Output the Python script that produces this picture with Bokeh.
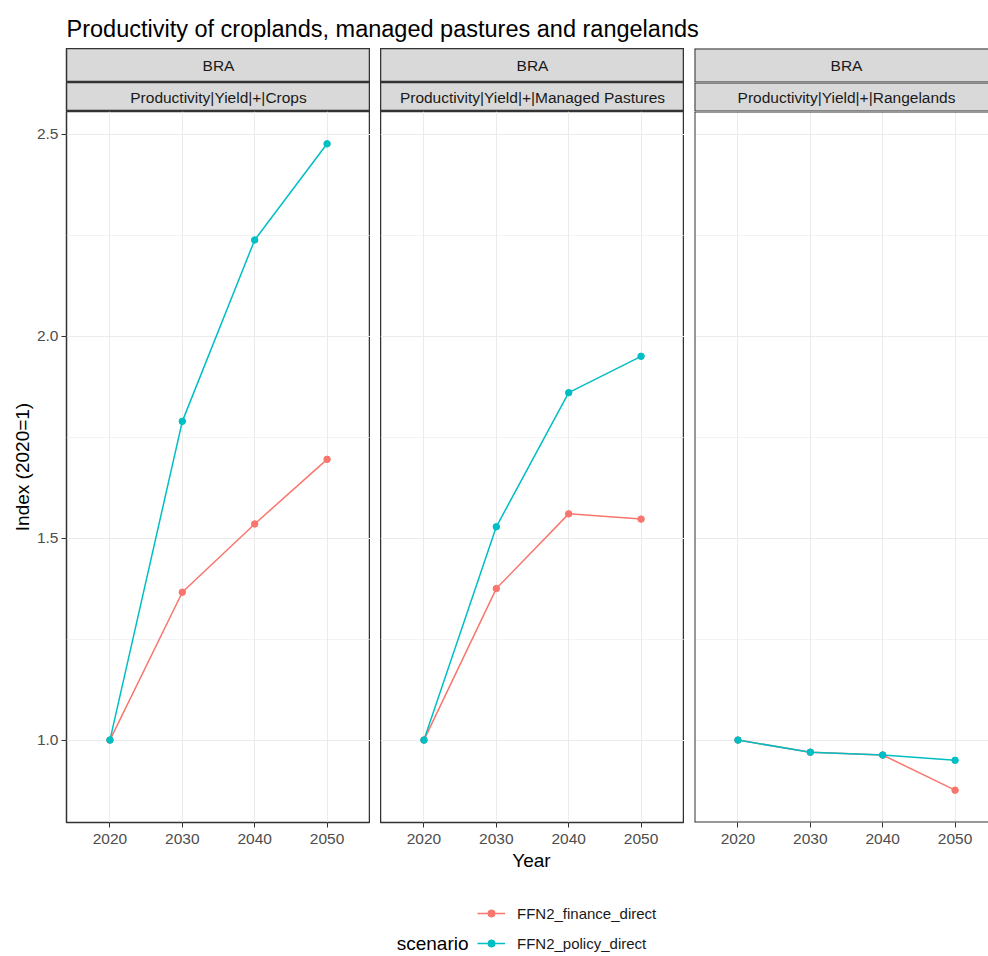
from bokeh.plotting import figure
from bokeh.models import (Range1d, FixedTicker, Label, Span, Legend, LegendItem)
from bokeh.layouts import column, row
from bokeh.embed import file_html
from bokeh.resources import INLINE

# ---------------- data ----------------
title_text = "Productivity of croplands, managed pastures and rangelands"
region = "BRA"
variables = ["Productivity|Yield|+|Crops",
             "Productivity|Yield|+|Managed Pastures",
             "Productivity|Yield|+|Rangelands"]
years = [2020, 2030, 2040, 2050]
scenarios = ["FFN2_finance_direct", "FFN2_policy_direct"]

finance_crops = [1.0, 1.366, 1.535, 1.695]
policy_crops = [1.0, 1.789, 2.238, 2.476]
finance_pastures = [1.0, 1.375, 1.560, 1.547]
policy_pastures = [1.0, 1.528, 1.860, 1.950]
finance_rangelands = [1.0, 0.970, 0.963, 0.876]
policy_rangelands = [1.0, 0.970, 0.963, 0.950]

y_ticks = [1.0, 1.5, 2.0, 2.5]
y_minor = [0.75, 1.25, 1.75, 2.25]
x_label = "Year"
y_label = "Index (2020=1)"
legend_title = "scenario"

colors = ["#F8766D", "#00BFC4"]
FONT = "Liberation Sans"

series = [
    [finance_crops, policy_crops],
    [finance_pastures, policy_pastures],
    [finance_rangelands, policy_rangelands],
]

# ---------------- layout constants ----------------
LEFT = 66
PANEL_W = [304, 304, 294]
FULL_W = 304
FRAME_H = 711
BOTTOM = 28
STRIP_H = [34, 29]
BORDER = "#333333"
TW = 988

allv = [v for pair in series for s in pair for v in s]
lo, hi = min(allv), max(allv)
pad = 0.05 * (hi - lo)
yr = Range1d(lo - pad, hi + pad)

step = years[1] - years[0]
x0 = years[0] - 0.6 * step
x_span = (years[-1] - years[0]) + 1.2 * step


def no_grid(f):
    for g in f.grid:
        g.visible = False


def make_panel(i):
    w = PANEL_W[i]
    left = LEFT if i == 0 else 0
    xr = Range1d(x0, x0 + x_span * w / FULL_W)
    p = figure(width=w + left, height=FRAME_H + BOTTOM, x_range=xr, y_range=yr,
               output_backend="svg", toolbar_location=None,
               min_border_left=left, min_border_right=0, min_border_top=0,
               min_border_bottom=BOTTOM,
               y_axis_location="left" if i == 0 else None)
    p.background_fill_color = "white"
    p.border_fill_color = "white"
    xa = p.xaxis[0]
    xa.ticker = FixedTicker(ticks=years)
    xa.major_label_overrides = {y: str(y) for y in years}
    xa.axis_line_color = None
    xa.major_tick_line_color = BORDER
    xa.major_tick_out = 5
    xa.major_tick_in = 0
    xa.minor_tick_line_color = None
    xa.major_label_text_color = "#4D4D4D"
    xa.major_label_text_font = FONT
    xa.major_label_text_font_size = "15.5px"
    xa.major_label_standoff = 6
    xg = p.xgrid[0]
    xg.ticker = FixedTicker(ticks=years)
    xg.grid_line_color = "#EBEBEB"
    xg.grid_line_width = 1
    if i == 0:
        ya = p.yaxis[0]
        ya.ticker = FixedTicker(ticks=y_ticks, minor_ticks=y_minor)
        ya.major_label_overrides = {t: f"{t:.1f}" for t in y_ticks}
        ya.axis_line_color = None
        ya.major_tick_line_color = BORDER
        ya.major_tick_out = 5
        ya.major_tick_in = 0
        ya.minor_tick_line_color = None
        ya.major_label_text_color = "#4D4D4D"
        ya.major_label_text_font = FONT
        ya.major_label_text_font_size = "15.5px"
        ya.major_label_standoff = 3
        ya.axis_label = y_label
        ya.axis_label_text_font = FONT
        ya.axis_label_text_font_size = "19px"
        ya.axis_label_text_font_style = "normal"
        ya.axis_label_text_color = "black"
        ya.axis_label_standoff = 1
    g = p.ygrid[0]
    g.ticker = FixedTicker(ticks=y_ticks, minor_ticks=y_minor)
    g.grid_line_color = "#EBEBEB"
    g.grid_line_width = 1
    g.minor_grid_line_color = "#EBEBEB"
    g.minor_grid_line_width = 0.6

    for j in range(len(scenarios)):
        vals = series[i][j]
        p.line(years, vals, line_color=colors[j], line_width=1.5)
        p.scatter(years, vals, size=6.5, fill_color=colors[j], line_color=colors[j])

    if i < 2:
        p.outline_line_color = BORDER
        p.outline_line_width = 1.5
    else:
        p.outline_line_color = None
        p.add_layout(Span(location=xr.start, dimension="height",
                          line_color=BORDER, line_width=2))
        p.add_layout(Span(location=yr.start, dimension="width",
                          line_color=BORDER, line_width=2))
        p.add_layout(Span(location=yr.end, dimension="width",
                          line_color=BORDER, line_width=2))
    return p


def make_strip(i, k, text):
    w = PANEL_W[i]
    h = STRIP_H[k]
    left = LEFT if i == 0 else 0
    s = figure(width=w + left, height=h, x_range=Range1d(0, w), y_range=Range1d(0, h),
               output_backend="svg", toolbar_location=None,
               x_axis_location=None, y_axis_location=None,
               min_border_left=left, min_border_right=0, min_border_top=0,
               min_border_bottom=0)
    no_grid(s)
    s.background_fill_color = "#D9D9D9"
    s.border_fill_color = "white"
    if i < 2:
        s.outline_line_color = BORDER
        s.outline_line_width = 1.5
    else:
        s.outline_line_color = None
        s.add_layout(Span(location=0, dimension="height", line_color=BORDER, line_width=2))
        s.add_layout(Span(location=0, dimension="width", line_color=BORDER, line_width=2))
        s.add_layout(Span(location=h, dimension="width", line_color=BORDER, line_width=2))
    s.add_layout(Label(x=FULL_W / 2, y=h / 2, text=text, text_align="center",
                       text_baseline="middle", text_font=FONT,
                       text_font_size="15.5px", text_color="#1A1A1A"))
    return s


cols = []
for i in range(3):
    cols.append(column(make_strip(i, 0, region), make_strip(i, 1, variables[i]),
                       make_panel(i)))
panels_row = row(*cols, spacing=10)

# title
TH = 48
tf = figure(width=TW, height=TH, x_range=Range1d(0, TW), y_range=Range1d(0, TH),
            output_backend="svg", toolbar_location=None,
            x_axis_location=None, y_axis_location=None, min_border=0)
no_grid(tf)
tf.outline_line_color = None
tf.add_layout(Label(x=LEFT, y=TH - 28, text=title_text, text_baseline="alphabetic",
                    text_font=FONT, text_font_size="23.5px", text_color="black"))

# bottom: x label + legend
BH = 106
bf = figure(width=TW, height=BH, x_range=Range1d(0, TW), y_range=Range1d(0, BH),
            output_backend="svg", toolbar_location=None,
            x_axis_location=None, y_axis_location=None, min_border=0)
no_grid(bf)
bf.outline_line_color = None
bf.add_layout(Label(x=531, y=BH - 10, text=x_label, text_align="center",
                    text_baseline="middle", text_font=FONT, text_font_size="19px",
                    text_color="black"))
bf.add_layout(Label(x=468, y=13, text=legend_title, text_align="right",
                    text_baseline="middle", text_font=FONT, text_font_size="19px",
                    text_color="black"))
items = []
for j, name in enumerate(scenarios):
    # legend key renderers: real data, lying outside this strip's visible range
    rl = bf.line(years, series[0][j], line_color=colors[j], line_width=1.5)
    rp = bf.scatter(years, series[0][j], size=6.5, fill_color=colors[j], line_color=colors[j])
    items.append(LegendItem(label=name, renderers=[rl, rp]))
leg = Legend(items=items, location=(477, 4), orientation="vertical",
             glyph_width=28, glyph_height=18, label_height=18, spacing=12,
             label_standoff=12, padding=0, margin=0,
             border_line_color=None, background_fill_alpha=0,
             label_text_font=FONT, label_text_font_size="15px",
             label_text_color="#1A1A1A")
bf.add_layout(leg)

layout = column(tf, panels_row, bf)
open("out.html", "w").write(file_html(layout, INLINE))
